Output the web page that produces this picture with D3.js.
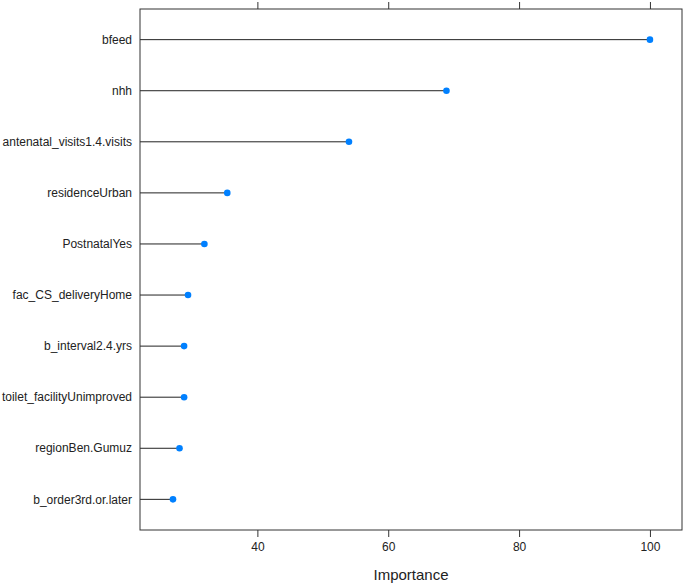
<!DOCTYPE html>
<html>
<head>
<meta charset="utf-8">
<script src="https://cdn.jsdelivr.net/npm/d3@7"></script>
<style>
  body { margin: 0; background: #fff; }
  svg { display: block; font-family: "Liberation Sans", Arial, sans-serif; }
</style>
</head>
<body>
<svg width="685" height="584"></svg>
<script>
// variable names, top to bottom
var variables = [
  "bfeed", "nhh", "antenatal_visits1.4.visits", "residenceUrban", "PostnatalYes",
  "fac_CS_deliveryHome", "b_interval2.4.yrs", "toilet_facilityUnimproved",
  "regionBen.Gumuz", "b_order3rd.or.later"
];
// importance values
var importance = [100, 68.9, 54.0, 35.4, 31.9, 29.4, 28.8, 28.8, 28.1, 27.1];
var xTicks = [40, 60, 80, 100];

var svg = d3.select('svg');
// panel box (window.top is reserved, so use other names)
var panelLeft = 140, panelRight = 682, panelTop = 9, panelBottom = 530;

var x = d3.scaleLinear().domain([22.06, 104.9]).range([panelLeft, panelRight]);
// lattice style: rows at 1..n, limits padded by 0.6
var y = d3.scaleLinear().domain([0.4, variables.length + 0.6]).range([panelTop, panelBottom]);

var rows = variables.map(function(v, i) {
  return { name: v, value: importance[i], pos: i + 1 };
});

// axes top and bottom, ticks outside
svg.append('g')
  .attr('transform', 'translate(0,' + panelTop + ')')
  .call(d3.axisTop(x).tickValues(xTicks).tickSize(7).tickFormat(''))
  .call(function(g) { g.select('.domain').remove(); });

svg.append('g')
  .attr('transform', 'translate(0,' + panelBottom + ')')
  .call(d3.axisBottom(x).tickValues(xTicks).tickSize(7).tickPadding(5))
  .call(function(g) {
    g.select('.domain').remove();
    g.selectAll('text').style('font-size', '12px').attr('fill', '#222');
  });

svg.selectAll('.tick line').attr('stroke', '#333');

// lollipop stems
svg.selectAll('line.stem')
  .data(rows)
  .enter().append('line')
  .attr('class', 'stem')
  .attr('x1', panelLeft)
  .attr('x2', function(d) { return x(d.value); })
  .attr('y1', function(d) { return y(d.pos); })
  .attr('y2', function(d) { return y(d.pos); })
  .attr('stroke', '#222')
  .attr('stroke-width', 1);

// points
svg.selectAll('circle')
  .data(rows)
  .enter().append('circle')
  .attr('cx', function(d) { return x(d.value); })
  .attr('cy', function(d) { return y(d.pos); })
  .attr('r', 3.3)
  .style('fill', '#0080ff');

// row labels
svg.selectAll('text.label')
  .data(rows)
  .enter().append('text')
  .attr('class', 'label')
  .attr('x', panelLeft - 8)
  .attr('y', function(d) { return y(d.pos); })
  .attr('dy', '0.35em')
  .attr('text-anchor', 'end')
  .style('font-size', '12px')
  .attr('fill', '#222')
  .text(function(d) { return d.name; });

// frame
svg.append('rect')
  .attr('x', panelLeft)
  .attr('y', panelTop)
  .attr('width', panelRight - panelLeft)
  .attr('height', panelBottom - panelTop)
  .attr('fill', 'none')
  .attr('stroke', '#333')
  .attr('stroke-width', 1);

// axis title
svg.append('text')
  .attr('x', (panelLeft + panelRight) / 2)
  .attr('y', 580)
  .attr('text-anchor', 'middle')
  .style('font-size', '15px')
  .attr('fill', '#222')
  .text('Importance');
</script>
</body>
</html>
